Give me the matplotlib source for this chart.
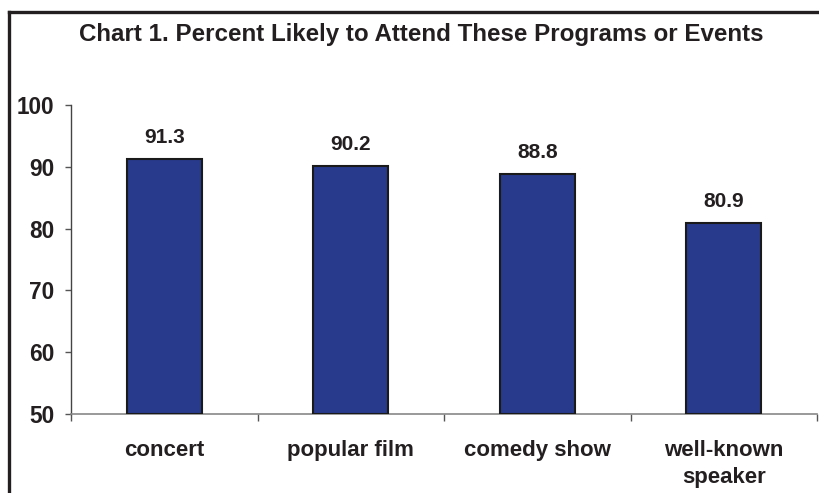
import matplotlib.pyplot as plt
from matplotlib.lines import Line2D

categories = ["concert", "popular film", "comedy show", "well-known\nspeaker"]
percents = [91.3, 90.2, 88.8, 80.9]
yticks = [50, 60, 70, 80, 90, 100]

plt.rcParams['font.family'] = ['Liberation Sans', 'DejaVu Sans']
plt.rcParams['font.weight'] = 'bold'
ink = '#231f20'

fig = plt.figure(figsize=(8.19, 4.93), dpi=100)
ax = fig.add_axes([71 / 819, 1 - 414 / 493, (817 - 71) / 819, (414 - 105) / 493])

xs = range(len(categories))
bars = ax.bar(xs, [p - 50 for p in percents], bottom=50, width=0.4,
              color='#283a8b', edgecolor='#1a1a1a', linewidth=1.5, zorder=3)
for x, p in zip(xs, percents):
    ax.annotate(f"{p:.1f}", (x, p), xytext=(0, 11.5), textcoords='offset points',
                ha='center', va='baseline', fontsize=15, fontweight='bold', color=ink)

ax.set_xlim(-0.5, len(categories) - 0.5)
ax.set_ylim(50, 100)
ax.set_yticks(yticks)
ax.set_yticklabels([str(t) for t in yticks], fontsize=16.3, fontweight='bold', color=ink)
ax.tick_params(axis='y', direction='out', length=4, width=1, color='#555555', pad=8)

# category labels centred between boundary ticks
ax.set_xticks([x + 0.5 for x in range(-1, len(categories))])
ax.set_xticklabels([])
ax.tick_params(axis='x', direction='out', length=5, width=1, color='#555555')
for x, c in zip(xs, categories):
    ax.text(x, 45.8, c, ha='center', va='top', fontsize=16, fontweight='bold',
            color=ink, linespacing=1.38)

for s in ['top', 'right']:
    ax.spines[s].set_visible(False)
ax.spines['left'].set_color('#444444')
ax.spines['bottom'].set_color('#888888')
ax.spines['left'].set_linewidth(1)
ax.spines['bottom'].set_linewidth(1.2)

fig.text(421 / 819, 1 - 35 / 493, "Chart 1. Percent Likely to Attend These Programs or Events",
         ha='center', va='center', fontsize=17.4, fontweight='bold', color=ink)

# outer frame (left and top edges)
fig.add_artist(Line2D([9 / 819, 9 / 819], [0, 1 - 11.5 / 493], transform=fig.transFigure,
                      color=ink, linewidth=2.4))
fig.add_artist(Line2D([9 / 819, 1], [1 - 11.5 / 493, 1 - 11.5 / 493], transform=fig.transFigure,
                      color=ink, linewidth=2.4))

fig.savefig("out.png", dpi=100)
